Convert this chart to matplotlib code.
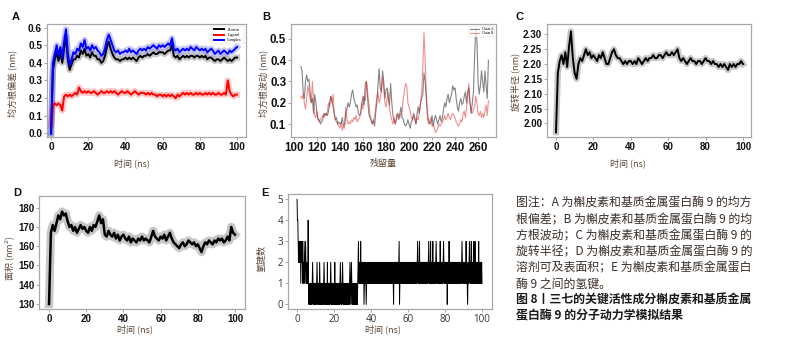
import numpy as np
import matplotlib
matplotlib.use("Agg")
import matplotlib.pyplot as plt

plt.rcParams['font.family'] = ['Liberation Sans', 'Noto Sans CJK SC']
CJK = ['Noto Sans CJK SC', 'DejaVu Sans']

# ---- data ----
t_ns = np.arange(101)  # 0..100 ns, 1 ns steps

rmsd_complex = [0.00, 0.40, 0.45, 0.50, 0.44, 0.49, 0.43, 0.52, 0.59, 0.45,
                0.39, 0.42, 0.46, 0.45, 0.48, 0.47, 0.51, 0.49, 0.53, 0.48,
                0.49, 0.47, 0.50, 0.48, 0.49, 0.47, 0.46, 0.44, 0.45, 0.48,
                0.53, 0.56, 0.53, 0.50, 0.47, 0.46, 0.47, 0.45, 0.46, 0.46,
                0.47, 0.46, 0.48, 0.46, 0.47, 0.46, 0.45, 0.47, 0.48, 0.47,
                0.48, 0.47, 0.49, 0.48, 0.49, 0.50, 0.49, 0.48, 0.50, 0.49,
                0.50, 0.49, 0.50, 0.51, 0.50, 0.54, 0.48, 0.47, 0.48, 0.46,
                0.47, 0.48, 0.47, 0.48, 0.47, 0.49, 0.48, 0.47, 0.49, 0.48,
                0.47, 0.48, 0.47, 0.48, 0.46, 0.47, 0.48, 0.47, 0.45, 0.46,
                0.47, 0.45, 0.46, 0.47, 0.46, 0.45, 0.47, 0.46, 0.47, 0.48,
                0.49]
rmsd_protein = [0.00, 0.36, 0.42, 0.46, 0.41, 0.46, 0.40, 0.48, 0.55, 0.42,
                0.36, 0.39, 0.42, 0.42, 0.44, 0.43, 0.47, 0.45, 0.48, 0.44,
                0.45, 0.43, 0.46, 0.44, 0.44, 0.42, 0.42, 0.40, 0.41, 0.44,
                0.49, 0.52, 0.48, 0.45, 0.43, 0.42, 0.42, 0.41, 0.42, 0.42,
                0.43, 0.42, 0.43, 0.42, 0.43, 0.42, 0.41, 0.43, 0.44, 0.43,
                0.44, 0.44, 0.45, 0.44, 0.45, 0.46, 0.45, 0.45, 0.46, 0.46,
                0.46, 0.45, 0.46, 0.47, 0.47, 0.50, 0.44, 0.43, 0.44, 0.42,
                0.43, 0.44, 0.43, 0.44, 0.43, 0.44, 0.44, 0.43, 0.44, 0.44,
                0.43, 0.44, 0.43, 0.44, 0.42, 0.43, 0.43, 0.42, 0.41, 0.42,
                0.42, 0.41, 0.42, 0.43, 0.42, 0.41, 0.42, 0.41, 0.42, 0.43,
                0.43]
rmsd_ligand = [0.05, 0.16, 0.17, 0.16, 0.17, 0.16, 0.13, 0.21, 0.22, 0.21,
               0.22, 0.21, 0.22, 0.23, 0.22, 0.26, 0.24, 0.23, 0.24, 0.23,
               0.24, 0.23, 0.23, 0.24, 0.23, 0.22, 0.23, 0.24, 0.23, 0.23,
               0.24, 0.23, 0.24, 0.23, 0.24, 0.23, 0.22, 0.23, 0.24, 0.23,
               0.23, 0.24, 0.23, 0.22, 0.23, 0.24, 0.23, 0.22, 0.23, 0.23,
               0.23, 0.22, 0.23, 0.22, 0.23, 0.22, 0.22, 0.21, 0.22, 0.22,
               0.21, 0.22, 0.21, 0.22, 0.21, 0.22, 0.21, 0.20, 0.22, 0.21,
               0.22, 0.23, 0.22, 0.23, 0.22, 0.23, 0.22, 0.22, 0.23, 0.22,
               0.23, 0.22, 0.22, 0.23, 0.22, 0.23, 0.22, 0.23, 0.22, 0.22,
               0.23, 0.22, 0.22, 0.23, 0.22, 0.30, 0.24, 0.22, 0.21, 0.22,
               0.22]

residues = np.arange(106, 270)
rmsf_chain_a = [0.37, 0.35, 0.25, 0.22,
                0.30, 0.33, 0.30, 0.31, 0.25, 0.20, 0.22, 0.15, 0.24, 0.20,
                0.15, 0.12, 0.12, 0.10, 0.11, 0.12, 0.15, 0.14, 0.15, 0.14,
                0.16, 0.20, 0.23, 0.21, 0.18, 0.15, 0.12, 0.13, 0.10, 0.11,
                0.10, 0.10, 0.13, 0.09, 0.10, 0.15, 0.17, 0.20, 0.18, 0.20,
                0.24, 0.26, 0.22, 0.20, 0.18, 0.19, 0.15, 0.14, 0.15, 0.20,
                0.23, 0.19, 0.29, 0.30, 0.22, 0.15, 0.13, 0.12, 0.10, 0.12,
                0.09, 0.15, 0.20, 0.28, 0.36, 0.27, 0.25, 0.35, 0.30, 0.22,
                0.26, 0.27, 0.22, 0.19, 0.29, 0.20, 0.14, 0.12, 0.10, 0.13,
                0.15, 0.12, 0.15, 0.18, 0.13, 0.12, 0.10, 0.09, 0.10, 0.12,
                0.10, 0.08, 0.11, 0.12, 0.15, 0.13, 0.10, 0.15, 0.18, 0.15,
                0.20, 0.22, 0.24, 0.34, 0.30, 0.22, 0.15, 0.12, 0.10, 0.11,
                0.14, 0.09, 0.12, 0.14, 0.12, 0.10, 0.12, 0.14, 0.11, 0.13,
                0.17, 0.20, 0.18, 0.22, 0.24, 0.20, 0.22, 0.24, 0.28, 0.26,
                0.27, 0.22, 0.18, 0.16, 0.20, 0.22, 0.19, 0.20, 0.23, 0.25,
                0.20, 0.25, 0.27, 0.20, 0.15, 0.20, 0.25, 0.42, 0.55, 0.50,
                0.30, 0.24, 0.28, 0.35, 0.30, 0.25, 0.35, 0.28, 0.22, 0.40]
rmsf_chain_b = [0.23, 0.22, 0.24, 0.20,
                0.17, 0.22, 0.28, 0.25, 0.22, 0.20, 0.30, 0.20, 0.14, 0.13,
                0.16, 0.12, 0.11, 0.12, 0.13, 0.14, 0.13, 0.15, 0.14, 0.16,
                0.20, 0.18, 0.23, 0.20, 0.24, 0.15, 0.12, 0.11, 0.10, 0.09,
                0.08, 0.11, 0.07, 0.09, 0.08, 0.18, 0.12, 0.10, 0.11, 0.10,
                0.12, 0.11, 0.13, 0.12, 0.14, 0.11, 0.12, 0.13, 0.15, 0.20,
                0.17, 0.23, 0.21, 0.30, 0.25, 0.20, 0.15, 0.12, 0.10, 0.11,
                0.13, 0.18, 0.22, 0.25, 0.20, 0.22, 0.26, 0.32, 0.27, 0.20,
                0.18, 0.22, 0.25, 0.17, 0.14, 0.12, 0.10, 0.13, 0.10, 0.12,
                0.15, 0.14, 0.13, 0.15, 0.16, 0.22, 0.26, 0.29, 0.28, 0.20,
                0.18, 0.16, 0.13, 0.12, 0.14, 0.12, 0.10, 0.13, 0.12, 0.16,
                0.20, 0.25, 0.37, 0.53, 0.40, 0.25, 0.12, 0.10, 0.11, 0.13,
                0.09, 0.10, 0.08, 0.06, 0.07, 0.08, 0.10, 0.09, 0.10, 0.11,
                0.12, 0.14, 0.12, 0.13, 0.15, 0.13, 0.12, 0.14, 0.15, 0.14,
                0.13, 0.11, 0.10, 0.09, 0.10, 0.12, 0.11, 0.15, 0.16, 0.13,
                0.18, 0.22, 0.29, 0.20, 0.16, 0.15, 0.17, 0.18, 0.23, 0.20,
                0.15, 0.14, 0.16, 0.13, 0.15, 0.13, 0.16, 0.19, 0.14, 0.21]

rg = [1.97, 2.17, 2.21, 2.23, 2.20, 2.24, 2.19, 2.26, 2.31, 2.22,
      2.17, 2.15, 2.20, 2.22, 2.21, 2.23, 2.25, 2.23, 2.24, 2.22,
      2.23, 2.22, 2.21, 2.23, 2.22, 2.24, 2.22, 2.20, 2.20, 2.22,
      2.24, 2.25, 2.23, 2.22, 2.22, 2.21, 2.20, 2.21, 2.20, 2.21,
      2.21, 2.20, 2.21, 2.20, 2.22, 2.21, 2.20, 2.21, 2.22, 2.21,
      2.22, 2.22, 2.23, 2.22, 2.22, 2.23, 2.23, 2.22, 2.23, 2.24,
      2.23, 2.23, 2.24, 2.23, 2.24, 2.25, 2.22, 2.21, 2.22, 2.21,
      2.20, 2.21, 2.22, 2.21, 2.21, 2.20, 2.21, 2.21, 2.20, 2.21,
      2.22, 2.21, 2.21, 2.20, 2.21, 2.20, 2.20, 2.19, 2.20, 2.19,
      2.20, 2.19, 2.18, 2.20, 2.19, 2.20, 2.19, 2.20, 2.20, 2.21,
      2.20]

sasa = [130, 167, 171, 168, 172, 176, 174, 178, 176, 177,
        173, 170, 171, 168, 170, 167, 169, 171, 169, 170,
        168, 167, 170, 168, 171, 170, 173, 176, 172, 174,
        166, 165, 168, 166, 165, 167, 164, 166, 163, 165,
        166, 164, 163, 165, 162, 164, 163, 162, 164, 163,
        165, 163, 164, 163, 162, 165, 168, 165, 164, 163,
        165, 164, 166, 163, 165, 167, 164, 162, 161, 160,
        159, 161, 162, 160, 161, 163, 162, 161, 162, 160,
        161, 159, 157, 160, 162, 161, 163, 162, 161, 163,
        162, 164, 163, 164, 162, 163, 165, 163, 170, 167,
        166]

# hydrogen bond count, one digit per 0.2 ns
hbond_str = ("54432 32323 12323 21213 21232 12121 41010 10101 01210 10101 "
             "01012 10101 02101 01010 10121 01010 10201 01010 12101 01010 "
             "10201 01010 10101 01210 10121 01010 10101 01010 10121 01210 "
             "10101 01010 10101 23121 21312 12121 20121 21012 12121 21212 "
             "12121 21212 12121 21212 12121 21212 12121 21212 12121 21212 "
             "12121 21212 10212 21212 12121 23012 12121 21212 12121 21212 "
             "12121 21212 12121 21212 12121 23212 13121 21212 12121 21212 "
             "12121 23212 13121 21312 12121 23212 12121 21312 12121 23212 "
             "12121 20212 13121 21212 12121 21212 12121 21212 12121 23212 "
             "12121 21312 10121 23212 13121 21312 13121 21212 13121 21212 1")
hbond = [int(c) for c in hbond_str.replace(" ", "")]
t_hb = np.arange(len(hbond)) * 0.2

caption_lines = [
    "图注：A 为槲皮素和基质金属蛋白酶 9 的均方",
    "根偏差；B 为槲皮素和基质金属蛋白酶 9 的均",
    "方根波动；C 为槲皮素和基质金属蛋白酶 9 的",
    "旋转半径；D 为槲皮素和基质金属蛋白酶 9 的",
    "溶剂可及表面积；E 为槲皮素和基质金属蛋白",
    "酶 9 之间的氢键。",
]
title_lines = [
    "图 8丨三七的关键活性成分槲皮素和基质金属",
    "蛋白酶 9 的分子动力学模拟结果",
]

# ---- figure ----
W, H = 798, 355
fig = plt.figure(figsize=(W / 100, H / 100), dpi=100)
LABEL_C = '#5a4535'


def px_axes(x0, y0, x1, y1):
    return fig.add_axes([x0 / W, 1 - y1 / H, (x1 - x0) / W, (y1 - y0) / H])


def style(ax, tsize, bold=True):
    for s in ax.spines.values():
        s.set_color('#a8a8a8')
        s.set_linewidth(0.9)
    ax.tick_params(length=2, width=0.6, color='#999999', pad=1.5,
                   labelsize=tsize, labelcolor='#111111' if bold else '#333333')
    for lab in ax.get_xticklabels() + ax.get_yticklabels():
        lab.set_fontweight('bold' if bold else 'normal')


def ftext(x, y, s, **kw):
    fig.text(x / W, 1 - y / H, s, **kw)


# A: RMSD
axA = px_axes(47, 24, 246, 137)
for y, c, lab in [(rmsd_protein, 'black', 'Protein'),
                  (rmsd_ligand, '#ff0000', 'Ligand'),
                  (rmsd_complex, '#0000ff', 'Complex')]:
    axA.plot(t_ns, y, color=c, lw=4.5, alpha=0.22)
    axA.plot(t_ns, y, color=c, lw=1.4, label=lab)
axA.set_xlim(-2.2, 104.8)
axA.set_ylim(-0.02, 0.62)
axA.set_xticks(range(0, 101, 20))
axA.set_yticks(np.arange(0, 0.61, 0.1))
axA.set_yticklabels([f'{v:.1f}' for v in np.arange(0, 0.61, 0.1)])
style(axA, 7.3)
leg = axA.legend(loc='upper right', prop={'family': 'Liberation Serif', 'size': 3},
                 frameon=True, handlelength=2.5, borderpad=0.4, labelspacing=0.3)
leg.get_frame().set_linewidth(0.3)
leg.get_frame().set_edgecolor('#cccccc')
leg.get_frame().set_boxstyle('square', pad=0)

# B: RMSF
axB = px_axes(291, 24, 496, 137)
axB.plot(residues, rmsf_chain_a, color='#333333', lw=0.8, alpha=0.6, label='Chain A')
axB.plot(residues, rmsf_chain_b, color='#e02020', lw=0.8, alpha=0.5, label='Chain B')
axB.set_xlim(97.4, 275.6)
axB.set_ylim(0.039, 0.57)
axB.set_xticks(range(100, 261, 20))
axB.set_yticks([0.1, 0.2, 0.3, 0.4, 0.5])
axB.set_yticklabels(['0.1', '0.2', '0.3', '0.4', '0.5'])
style(axB, 8.3)
legB = axB.legend(loc='upper right', prop={'family': 'Liberation Serif', 'size': 2.5},
                  frameon=True, handlelength=2.5, borderpad=0.3, labelspacing=0.2)
legB.get_frame().set_linewidth(0.3)
legB.get_frame().set_edgecolor('#cccccc')
legB.get_frame().set_boxstyle('square', pad=0)

# C: Rg
axC = px_axes(547, 24, 751, 137)
axC.plot(t_ns, rg, color='black', lw=4.5, alpha=0.22)
axC.plot(t_ns, rg, color='black', lw=1.4)
axC.set_xlim(-4.8, 104.3)
axC.set_ylim(1.954, 2.335)
axC.set_xticks(range(0, 101, 20))
cy = [2.00, 2.05, 2.10, 2.15, 2.20, 2.25, 2.30]
axC.set_yticks(cy)
axC.set_yticklabels([f'{v:.2f}' for v in cy])
style(axC, 7.0)

# D: SASA
axD = px_axes(39, 196, 245, 309)
axD.plot(t_ns, sasa, color='black', lw=6, alpha=0.22)
axD.plot(t_ns, sasa, color='black', lw=1.8)
axD.set_xlim(-5.4, 105.4)
axD.set_ylim(127.4, 186.1)
axD.set_xticks(range(0, 101, 20))
axD.set_yticks(range(130, 181, 10))
style(axD, 7.0)

# E: H-bonds
axE = px_axes(288, 194, 492, 309)
axE.plot(t_hb, hbond, color='black', lw=0.7)
axE.set_xlim(-4.9, 105.4)
axE.set_ylim(-0.22, 5.25)
axE.set_xticks(range(0, 101, 20))
axE.set_yticks(range(0, 6))
style(axE, 7.0, bold=False)
for lab in axE.get_xticklabels() + axE.get_yticklabels():
    lab.set_family('Open Sans')

# panel letters
for x, y, s in [(12, 17, 'A'), (262, 17, 'B'), (515, 17, 'C'),
                (13, 193, 'D'), (261, 193, 'E')]:
    ftext(x, y, s, fontsize=8, fontweight='bold', color='#111111',
          va='center', ha='left')

# axis labels
xl = dict(fontsize=6.5, color=LABEL_C, family=CJK, ha='center', va='center')
ftext(132, 163, '时间 (ns)', **xl)
ftext(383, 163, '残留量', **xl)
ftext(628, 163, '时间 (ns)', **xl)
ftext(135, 329, '时间 (ns)', **xl)
ftext(383, 329, '时间 (ns)', **xl)
yl = dict(fontsize=6.5, color=LABEL_C, family=CJK, ha='center', va='center',
          rotation=90)
ftext(12, 83, '均方根偏差 (nm)', **yl)
ftext(263, 83, '均方根波动 (nm)', **yl)
ftext(515, 82, '旋转半径 (nm)', **yl)
ftext(10, 258, '面积 (nm$^2$)', **yl)
ftext(262, 258, '氢键数', **yl)

# caption
y0 = 203.3
for i, line in enumerate(caption_lines):
    ftext(516, y0 + i * 16.1, line, fontsize=8.6, color='#3b302a', family=CJK,
          va='center', ha='left')
for i, line in enumerate(title_lines):
    ftext(516, 300 + i * 16.1, line, fontsize=8.6, color='#1a1a1a', family=CJK,
          fontweight='bold', va='center', ha='left')

fig.savefig('out.png', dpi=100)
